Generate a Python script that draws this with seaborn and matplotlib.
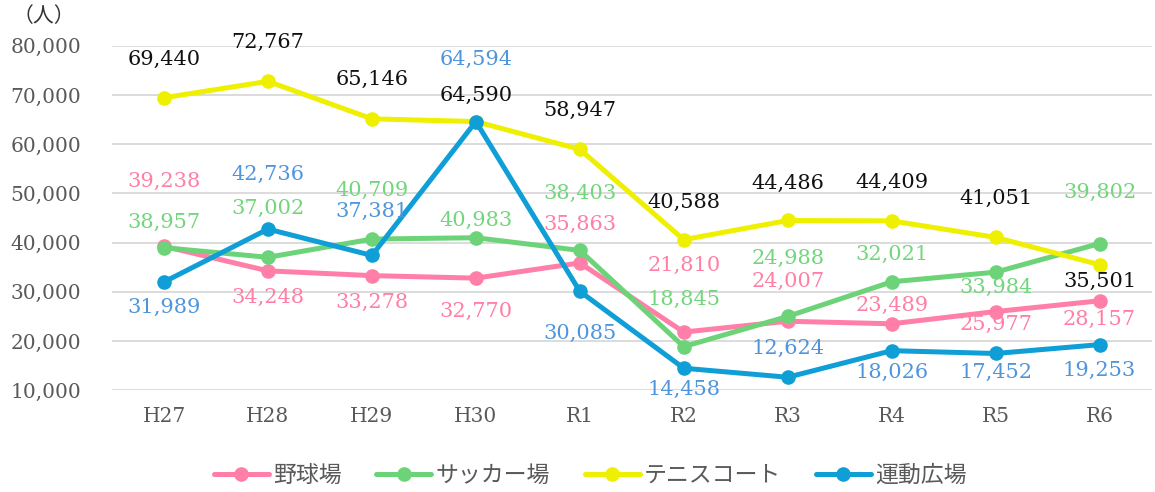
import pandas as pd
import numpy as np
import matplotlib
matplotlib.use("Agg")
import matplotlib.pyplot as plt
import seaborn as sns

years = ["H27", "H28", "H29", "H30", "R1", "R2", "R3", "R4", "R5", "R6"]
names = ["野球場", "サッカー場", "テニスコート", "運動広場"]

baseball = [39238, 34248, 33278, 32770, 35863, 21810, 24007, 23489, 25977, 28157]
soccer = [38957, 37002, 40709, 40983, 38403, 18845, 24988, 32021, 33984, 39802]
tennis = [69440, 72767, 65146, 64590, 58947, 40588, 44486, 44409, 41051, 35501]
field = [31989, 42736, 37381, 64594, 30085, 14458, 12624, 18026, 17452, 19253]

# colours: line, label
line_colors = ["#FF7FA8", "#6DD378", "#EFEF00", "#0F9ED5"]
label_colors = ["#FF7FA5", "#72D67C", "#111111", "#4F95DC"]

# label vertical offsets in pixels (positive = above the point)
label_dy = [
    [65, -27, -27, -33, 39, 67, 40, 18, -13, -19],
    [25, 49, 49, 17, 57, 47, 58, 27, -15, 51],
    [38, 39, 39, 26, 39, 37, 37, 38, 39, -17],
    [-25, 55, 44, 62, -42, -21, 29, -22, -19, -26],
]

series = [baseball, soccer, tennis, field]

sns.set_style("white")
plt.rcParams['font.family'] = ['DejaVu Serif', 'Noto Sans CJK JP']

fig = plt.figure(figsize=(11.55, 4.92), dpi=100)
ax = fig.add_axes([0.097, 0.207, 0.9, 0.7])

for name, vals, lc in zip(names, series, line_colors):
    df = pd.DataFrame({"year": years, "visitors": vals})
    sns.lineplot(data=df, x="year", y="visitors", sort=False, color=lc,
                 linewidth=3.6, marker="o", markersize=10.5,
                 markeredgewidth=0, label=name, ax=ax)

for vals, tc, dys in zip(series, label_colors, label_dy):
    for i, (v, dy) in enumerate(zip(vals, dys)):
        ax.annotate(f"{v:,}", (i, v), xytext=(0, dy), textcoords="offset pixels",
                    ha="center", va="center", fontsize=15, color=tc)

ax.set_xlim(-0.5, 9.5)
ax.set_ylim(10000, 80000)
ax.set_yticks(np.arange(10000, 80001, 10000))
ax.set_yticklabels([f"{t:,}" for t in range(10000, 80001, 10000)])
ax.grid(axis="y", color="#D9D9D9", linewidth=1.3)
ax.set_axisbelow(True)
ax.tick_params(axis="y", length=0, pad=22, labelsize=14.5, labelcolor="#595959")
ax.tick_params(axis="x", length=0, pad=12, labelsize=14.5, labelcolor="#595959")
ax.set_xlabel("")
ax.set_ylabel("")
sns.despine(ax=ax, left=True, bottom=True)

fig.text(0.038, 0.968, "（人）", ha="center", va="center", fontsize=15,
         color="#333333", family=['Noto Sans CJK JP'])

ax.legend(loc="center", bbox_to_anchor=(0.511, 0.033),
          bbox_transform=fig.transFigure, ncol=4, frameon=False,
          fontsize=16.5, handlelength=2.4, handletextpad=0.2,
          columnspacing=1.5, labelcolor="#595959")

fig.savefig("out.png", dpi=100)
